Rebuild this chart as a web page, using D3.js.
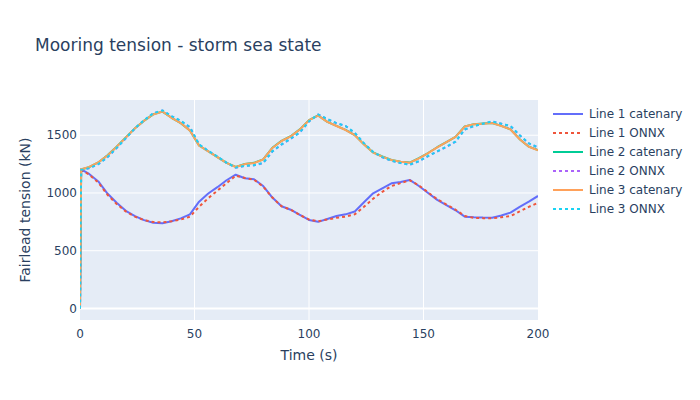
<!DOCTYPE html>
<html>
<head>
<meta charset="utf-8">
<script src="https://cdn.jsdelivr.net/npm/d3@7"></script>
<style>
  body { margin: 0; background: #fff; }
  text { font-family: "DejaVu Sans", verdana, arial, sans-serif; fill: #2a3f5f; }
</style>
</head>
<body>
<div id="chart"></div>
<script>
// time stamps (s)
const time = [0, 0.5, 4, 8, 12, 16, 20, 24, 28, 32, 36, 40, 44, 48, 52, 56, 60, 64, 68, 72, 76, 80, 84, 88, 92, 96, 100,
  104, 108, 112, 116, 120, 124, 128, 132, 136, 140, 144, 148, 152, 156, 160, 164, 168, 172, 176, 180, 184, 188, 192, 196, 200];

// fairlead tension (kN)
const line1Catenary = [0, 1205, 1165, 1100, 995, 915, 845, 800, 765, 742, 737, 755, 780, 815, 925, 995, 1050, 1110, 1158, 1127, 1118, 1060, 960, 885, 855, 810, 766,
  750, 775, 800, 815, 840, 920, 997, 1040, 1084, 1095, 1113, 1060, 1000, 940, 895, 850, 795, 790, 787, 786, 805, 830, 880, 925, 974];
const line1Onnx = [0, 1200, 1160, 1090, 985, 905, 840, 795, 765, 748, 745, 755, 770, 795, 880, 955, 1020, 1085, 1150, 1130, 1115, 1055, 960, 885, 855, 810, 770,
  755, 770, 785, 795, 815, 880, 950, 1010, 1060, 1085, 1110, 1065, 1005, 945, 900, 855, 800, 785, 782, 780, 790, 800, 840, 880, 915];
const line2Catenary = [0, 1203, 1224, 1264, 1326, 1401, 1481, 1561, 1626, 1681, 1704, 1651, 1604, 1541, 1411, 1361, 1311, 1261, 1226, 1251, 1261, 1291, 1391, 1451, 1491, 1551, 1631,
  1671, 1616, 1581, 1546, 1501, 1421, 1351, 1316, 1286, 1271, 1263, 1301, 1346, 1396, 1441, 1486, 1576, 1596, 1601, 1606, 1581, 1551, 1466, 1401, 1371];
const line2Onnx = [0, 1200, 1214, 1249, 1309, 1389, 1474, 1559, 1629, 1689, 1714, 1664, 1624, 1569, 1419, 1364, 1314, 1261, 1219, 1234, 1239, 1259, 1359, 1419, 1469, 1524, 1619,
  1679, 1639, 1604, 1579, 1519, 1429, 1354, 1309, 1279, 1259, 1244, 1274, 1319, 1359, 1399, 1444, 1549, 1579, 1599, 1619, 1599, 1579, 1499, 1429, 1394];
const line3Catenary = [0, 1205, 1225, 1265, 1325, 1400, 1480, 1560, 1625, 1680, 1705, 1650, 1605, 1540, 1410, 1360, 1310, 1260, 1225, 1250, 1260, 1290, 1390, 1450, 1490, 1550, 1630,
  1670, 1615, 1580, 1545, 1500, 1420, 1350, 1315, 1285, 1270, 1262, 1300, 1345, 1395, 1440, 1485, 1575, 1595, 1600, 1605, 1580, 1550, 1465, 1400, 1370];
const line3Onnx = [0, 1200, 1215, 1250, 1310, 1390, 1475, 1560, 1630, 1690, 1715, 1665, 1625, 1570, 1420, 1365, 1315, 1262, 1220, 1235, 1240, 1260, 1360, 1420, 1470, 1525, 1620,
  1680, 1640, 1605, 1580, 1520, 1430, 1355, 1310, 1280, 1260, 1245, 1275, 1320, 1360, 1400, 1445, 1550, 1580, 1600, 1620, 1600, 1580, 1500, 1430, 1395];

const seriesNames = ["Line 1 catenary", "Line 1 ONNX", "Line 2 catenary", "Line 2 ONNX", "Line 3 catenary", "Line 3 ONNX"];
const seriesValues = [line1Catenary, line1Onnx, line2Catenary, line2Onnx, line3Catenary, line3Onnx];
const seriesColors = ["#636efa", "#EF553B", "#00cc96", "#ab63fa", "#FFA15A", "#19d3f3"];
const seriesDotted = [false, true, false, true, false, true];

const xTicks = [0, 50, 100, 150, 200];
const yTicks = [0, 500, 1000, 1500];

const width = 700, height = 400;
const margin = {top: 100, right: 162, bottom: 80, left: 80};
const plotW = width - margin.left - margin.right;
const plotH = height - margin.top - margin.bottom;

const svg = d3.select("#chart").append("svg")
  .attr("width", width)
  .attr("height", height);

const x = d3.scaleLinear().domain([0, 200]).range([0, plotW]);
const y = d3.scaleLinear().domain([-100, 1805]).range([plotH, 0]);

const g = svg.append("g").attr("transform", `translate(${margin.left},${margin.top})`);

g.append("rect").attr("width", plotW).attr("height", plotH).attr("fill", "#E5ECF6");

// grid
g.selectAll(".xgrid").data(xTicks.filter(d => d > 0 && d < 200)).join("line")
  .attr("x1", d => x(d)).attr("x2", d => x(d))
  .attr("y1", 0).attr("y2", plotH)
  .attr("stroke", "#fff").attr("stroke-width", 1);
g.selectAll(".ygrid").data(yTicks).join("line")
  .attr("x1", 0).attr("x2", plotW)
  .attr("y1", d => y(d)).attr("y2", d => y(d))
  .attr("stroke", "#fff").attr("stroke-width", d => d === 0 ? 2 : 1);

// ticks labels
g.selectAll(".xlab").data(xTicks).join("text")
  .attr("x", d => x(d)).attr("y", plotH + 9).attr("dy", "0.71em")
  .attr("text-anchor", "middle").style("font-size", "12px")
  .text(d => d);
g.selectAll(".ylab").data(yTicks).join("text")
  .attr("x", -3).attr("y", d => y(d)).attr("dy", "0.35em")
  .attr("text-anchor", "end").style("font-size", "12px")
  .text(d => d);

// lines
svg.append("clipPath").attr("id", "clip").append("rect")
  .attr("width", plotW).attr("height", plotH);

const line = d3.line().x((d, i) => x(time[i])).y(d => y(d));
const plotLines = g.append("g").attr("clip-path", "url(#clip)");
seriesValues.forEach((vals, i) => {
  plotLines.append("path")
    .attr("d", line(vals))
    .attr("fill", "none")
    .attr("stroke", seriesColors[i])
    .attr("stroke-width", 2)
    .attr("stroke-linejoin", "round")
    .attr("stroke-dasharray", seriesDotted[i] ? "3,3" : null);
});

// axis titles
svg.append("text")
  .attr("x", margin.left + plotW / 2).attr("y", 355).attr("dy", "0.35em")
  .attr("text-anchor", "middle").style("font-size", "14px")
  .text("Time (s)");
svg.append("text")
  .attr("transform", `translate(25,${margin.top + plotH / 2}) rotate(-90)`)
  .attr("dy", "0.35em")
  .attr("text-anchor", "middle").style("font-size", "14px")
  .text("Fairlead tension (kN)");

// title
svg.append("text")
  .attr("x", 35).attr("y", 45).attr("dy", "0.35em")
  .style("font-size", "17px")
  .text("Mooring tension - storm sea state");

// legend
const legend = svg.append("g").attr("transform", "translate(553,114)");
seriesNames.forEach((name, i) => {
  const row = legend.append("g").attr("transform", `translate(0,${i * 19})`);
  row.append("line")
    .attr("x1", 0).attr("x2", 30).attr("y1", 0).attr("y2", 0)
    .attr("stroke", seriesColors[i]).attr("stroke-width", 2)
    .attr("stroke-dasharray", seriesDotted[i] ? "3,3" : null);
  row.append("text")
    .attr("x", 36).attr("y", 0).attr("dy", "0.35em")
    .style("font-size", "12px")
    .text(name);
});
</script>
</body>
</html>
